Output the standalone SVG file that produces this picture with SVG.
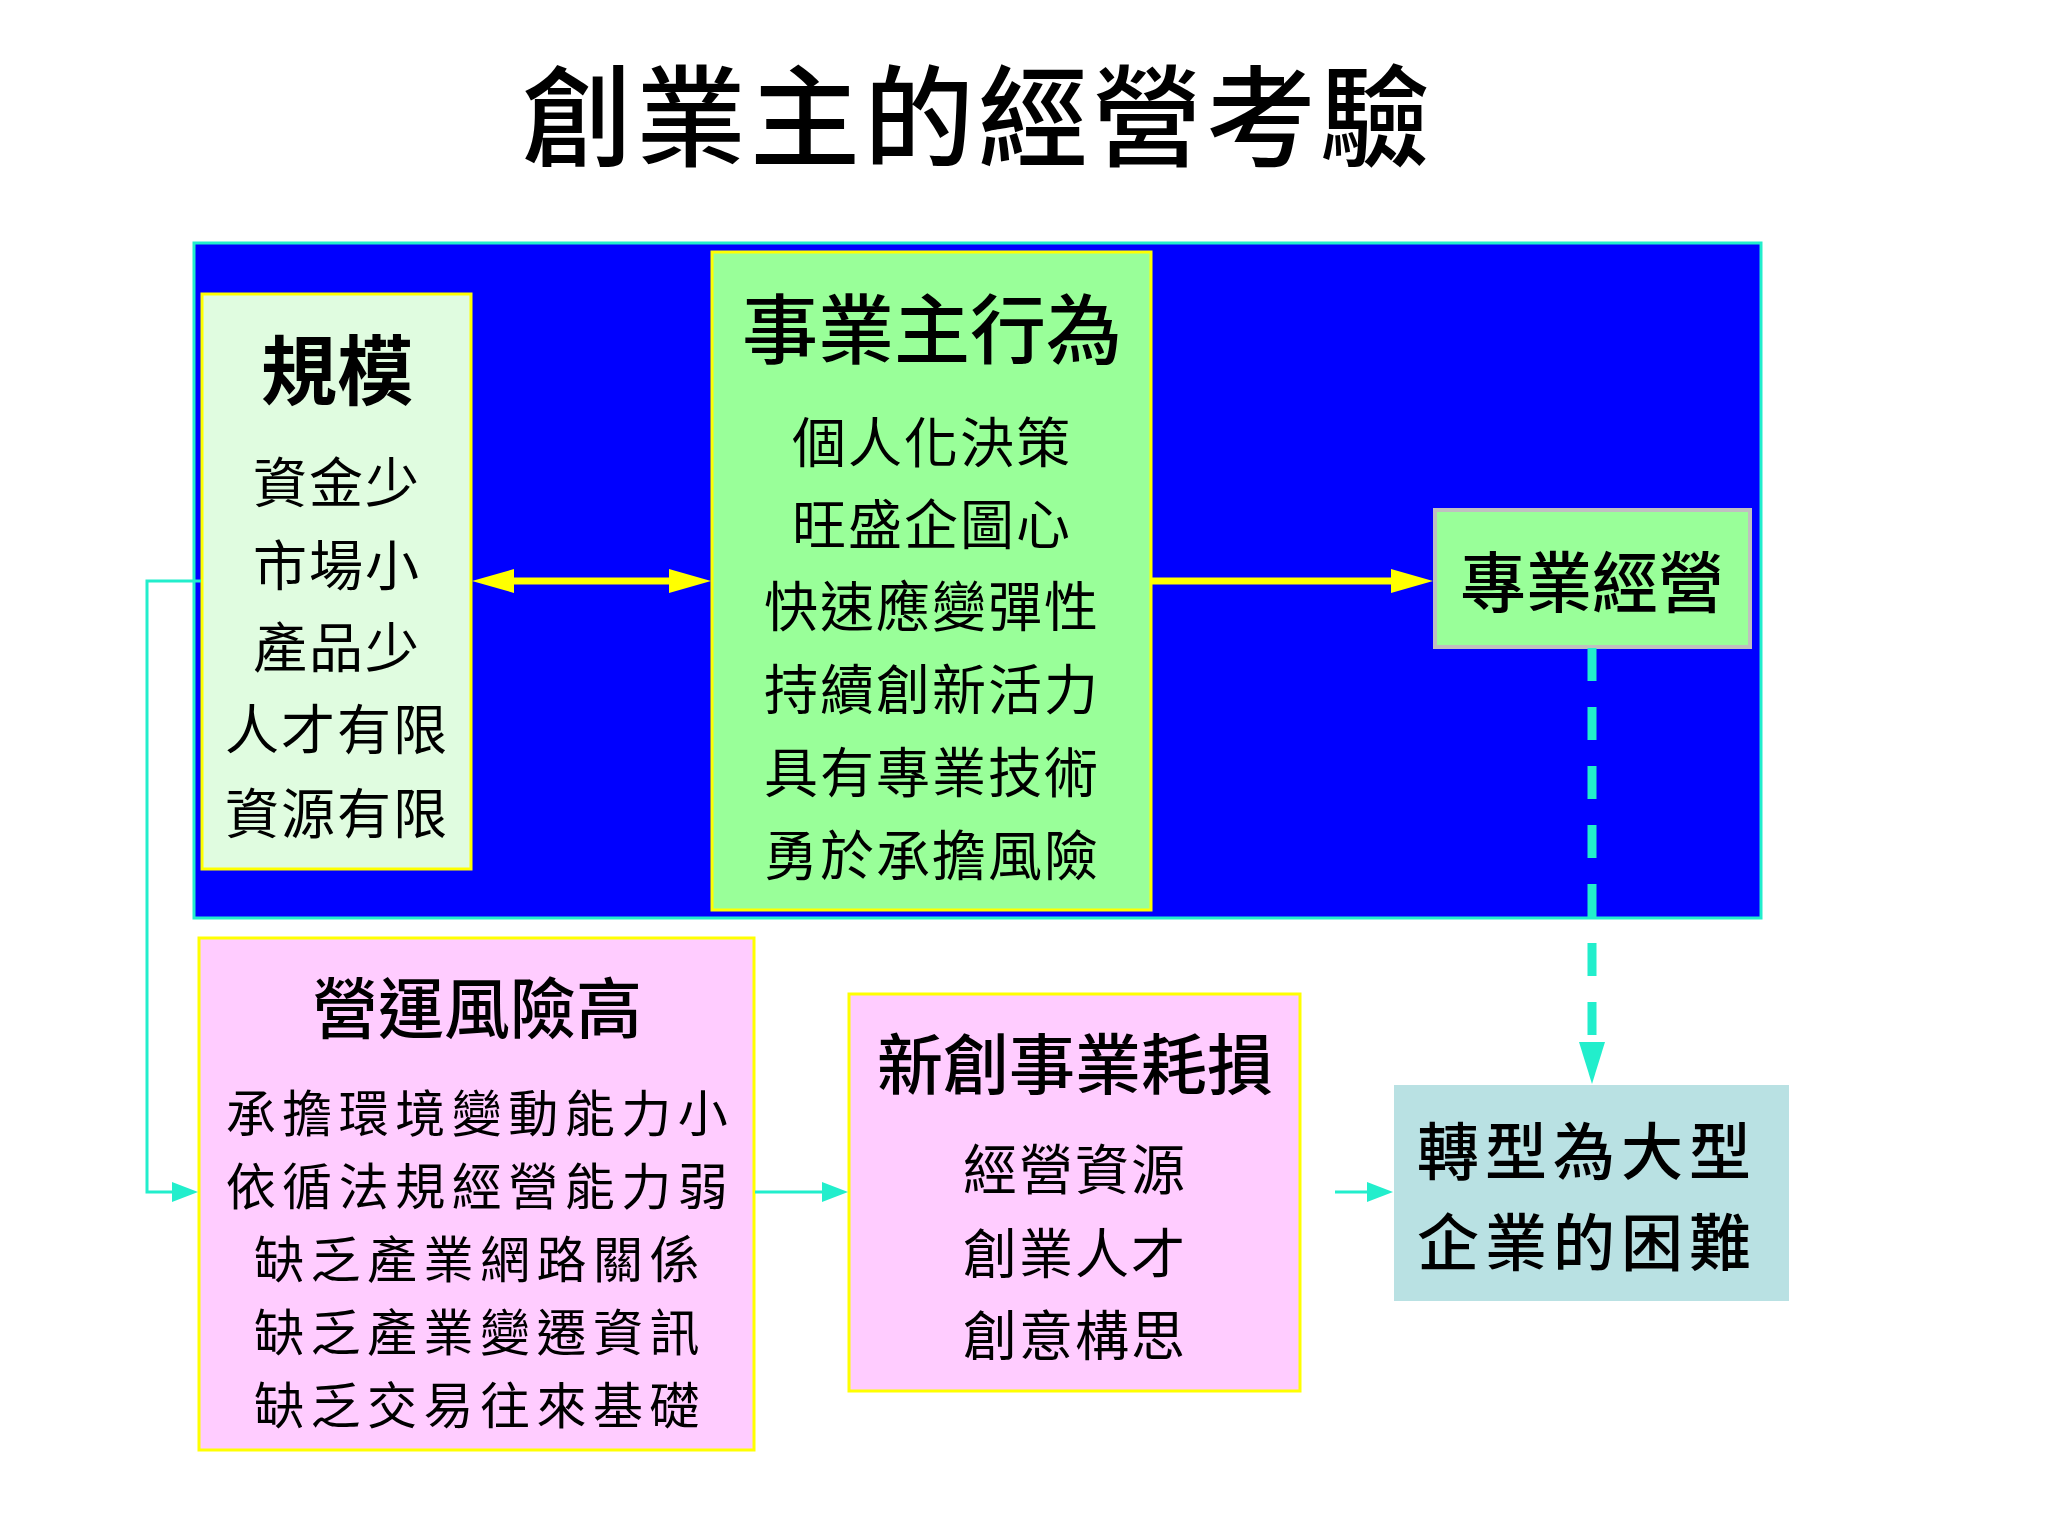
<svg xmlns="http://www.w3.org/2000/svg" width="2048" height="1536" viewBox="0 0 2048 1536">
<defs>
<style>
text{font-family:"Noto Sans CJK TC","Noto Sans CJK SC",sans-serif;fill:#000;text-anchor:middle;dominant-baseline:central}
.title{font-size:110px;font-weight:500;letter-spacing:4px}
.h{font-size:66px;font-weight:500}
.hb{font-size:76px;font-weight:700}
.t{font-size:54px;letter-spacing:2px}
.tr{font-size:50px;letter-spacing:6.5px}
.th{font-size:62px;font-weight:500;letter-spacing:6px}
.box{stroke:#FFFF00;stroke-width:3}
.cy{stroke:#22EECC;fill:none}
.ye{stroke:#FFFF00;fill:none;stroke-width:7}
</style>
</defs>
<rect width="2048" height="1536" fill="#FFFFFF"/>
<text class="title" x="978" y="110">創業主的經營考驗</text>
<rect id="frame" x="194" y="243" width="1567" height="675" fill="#0000FF" stroke="#22EECC" stroke-width="3"/>

<g id="scale">
<rect class="box" x="202" y="294" width="269" height="575" fill="#E0FCE0"/>
<text class="hb" x="337" y="366">規模</text>
<text class="t" x="337" y="479">資金少</text>
<text class="t" x="337" y="562">市場小</text>
<text class="t" x="337" y="644">產品少</text>
<text class="t" x="337" y="726">人才有限</text>
<text class="t" x="337" y="810">資源有限</text>
</g>

<g id="behavior">
<rect class="box" x="712" y="252" width="439" height="658" fill="#99FF99"/>
<text class="h" x="932" y="325" style="font-size:76px">事業主行為</text>
<text class="t" x="932" y="439">個人化決策</text>
<text class="t" x="932" y="521">旺盛企圖心</text>
<text class="t" x="932" y="603">快速應變彈性</text>
<text class="t" x="932" y="686">持續創新活力</text>
<text class="t" x="932" y="769">具有專業技術</text>
<text class="t" x="932" y="852">勇於承擔風險</text>
</g>

<g id="pro">
<rect x="1435" y="510" width="315" height="137" fill="#99FF99" stroke="#C0C0C0" stroke-width="4"/>
<text class="h" x="1592" y="578">專業經營</text>
</g>

<g id="risk">
<rect class="box" x="199" y="938" width="555" height="512" fill="#FFCCFF"/>
<text class="h" x="477" y="1004">營運風險高</text>
<text class="tr" x="480" y="1110">承擔環境變動能力小</text>
<text class="tr" x="480" y="1183">依循法規經營能力弱</text>
<text class="tr" x="480" y="1256">缺乏產業網路關係</text>
<text class="tr" x="480" y="1329">缺乏產業變遷資訊</text>
<text class="tr" x="480" y="1402">缺乏交易往來基礎</text>
</g>

<g id="loss">
<rect class="box" x="849" y="994" width="451" height="397" fill="#FFCCFF"/>
<text class="h" x="1075" y="1060">新創事業耗損</text>
<text class="t" x="1075" y="1166">經營資源</text>
<text class="t" x="1075" y="1250">創業人才</text>
<text class="t" x="1075" y="1332">創意構思</text>
</g>

<g id="transform">
<rect x="1394" y="1085" width="395" height="216" fill="#B9E1E3"/>
<text class="th" x="1587" y="1148">轉型為大型</text>
<text class="th" x="1587" y="1239">企業的困難</text>
</g>

<g id="connectors">
<line class="ye" x1="505" y1="581" x2="680" y2="581"/>
<polygon points="472,581 514,569 514,593" fill="#FFFF00"/>
<polygon points="711,581 669,569 669,593" fill="#FFFF00"/>
<line class="ye" x1="1152" y1="581" x2="1400" y2="581"/>
<polygon points="1433,581 1391,569 1391,593" fill="#FFFF00"/>
<line class="cy" x1="1592" y1="648" x2="1592" y2="1040" stroke-width="9" stroke-dasharray="33 26"/>
<polygon points="1579,1042 1605,1042 1592,1084" fill="#22EECC"/>
<path class="cy" d="M201 581 H147 V1192 H172" stroke-width="3"/>
<polygon points="172,1182 198,1192 172,1202" fill="#22EECC"/>
<line class="cy" x1="755" y1="1192" x2="824" y2="1192" stroke-width="3"/>
<polygon points="822,1182 848,1192 822,1202" fill="#22EECC"/>
<line class="cy" x1="1335" y1="1192" x2="1370" y2="1192" stroke-width="3"/>
<polygon points="1367,1182 1393,1192 1367,1202" fill="#22EECC"/>
</g>
</svg>
